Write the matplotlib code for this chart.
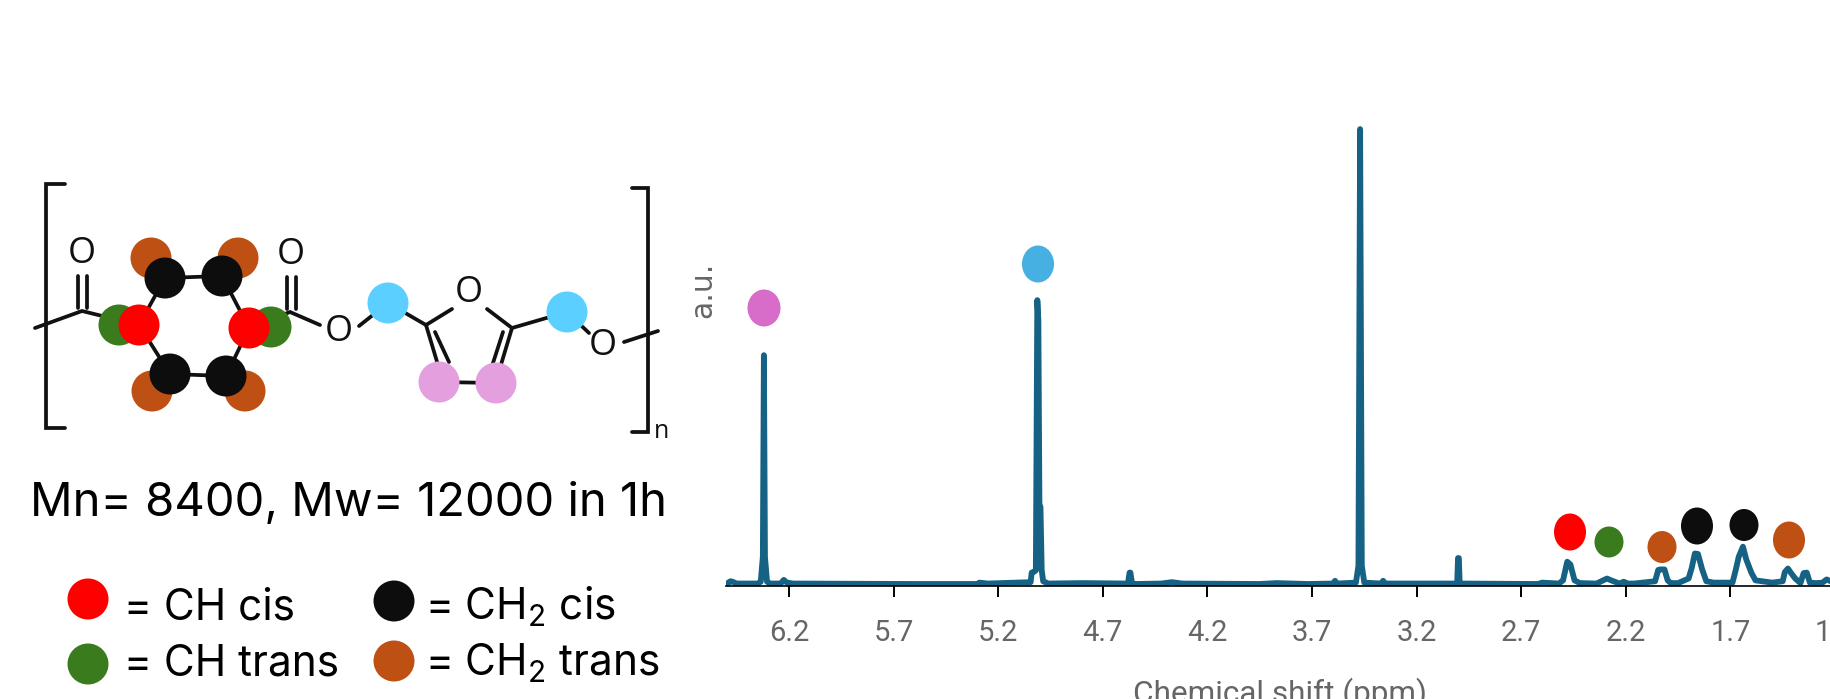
import matplotlib
matplotlib.use("Agg")
import matplotlib.pyplot as plt
from matplotlib.patches import Ellipse

# 1H NMR trace
ppm = [6.50, 6.49, 6.48, 6.47, 6.45, 6.35, 6.335, 6.325, 6.32, 6.315, 6.305, 6.29, 6.24,
       6.225, 6.21, 6.18, 5.60, 5.30, 5.29, 5.25, 5.045, 5.04, 5.035, 5.025, 5.02, 5.013,
       5.008, 5.003, 4.998, 4.992, 4.985, 4.96, 4.80, 4.58, 4.572, 4.568, 4.56, 4.54,
       4.42, 4.37, 4.32, 3.95, 3.87, 3.72, 3.60, 3.59, 3.58, 3.49, 3.478, 3.47, 3.462,
       3.45, 3.37, 3.36, 3.35, 3.006, 3.002, 2.998, 2.994, 2.62, 2.60, 2.52, 2.50, 2.48,
       2.465, 2.445, 2.42, 2.34, 2.29, 2.27, 2.23, 2.21, 2.19, 2.16, 2.06, 2.045, 2.035,
       2.015, 2.0, 1.985, 1.95, 1.90, 1.885, 1.87, 1.855, 1.835, 1.815, 1.78, 1.69, 1.675,
       1.66, 1.64, 1.625, 1.60, 1.58, 1.50, 1.45, 1.44, 1.425, 1.41, 1.39, 1.365, 1.35,
       1.335, 1.32, 1.29, 1.26, 1.24, 1.20]
intensity = [0.0, 0.3, 0.6, 0.5, 0.1, 0.1, 0.5, 6.0, 50.3, 6.0, 0.5, 0.1, 0.1,
             0.9, 0.3, 0.1, 0.0, 0.0, 0.3, 0.1, 0.4, 2.5, 2.6, 2.8, 3.0, 62.4,
             58.0, 17.4, 17.0, 3.0, 0.6, 0.1, 0.2, 0.1, 2.5, 2.5, 0.1, 0.0,
             0.1, 0.4, 0.1, 0.0, 0.2, 0.0, 0.1, 0.7, 0.1, 0.3, 4.0, 100.0, 4.0,
             0.3, 0.1, 0.7, 0.1, 0.1, 5.7, 5.7, 0.1, 0.0, 0.3, 0.1, 0.8, 4.9,
             4.3, 0.8, 0.2, 0.1, 1.2, 0.8, 0.1, 0.5, 0.1, 0.1, 0.6, 3.1, 3.2,
             3.2, 0.8, 0.2, 0.2, 1.2, 3.5, 6.7, 6.6, 3.2, 0.6, 0.3, 0.3, 3.0,
             6.0, 8.2, 5.5, 2.5, 0.8, 0.3, 0.6, 2.6, 3.4, 2.4, 1.2, 0.2, 2.4,
             2.5, 0.3, 0.2, 0.3, 1.0, 0.2]
tick_ppm = [6.2, 5.7, 5.2, 4.7, 4.2, 3.7, 3.2, 2.7, 2.2, 1.7, 1.2]

RED = "#FF0000"
BLACK = "#0D0D0D"
GREEN = "#3A7C1D"
ORANGE = "#BF5014"
PINK = "#E39FDE"
SKY = "#5BCFFF"
LINE = "#166285"
GREY = "#666666"

# peak labels over the spectrum: x, y, w, h, colour
peak_dots = [
    (764, 308, 33, 37, "#D86DC9"), (1038, 264, 32, 37, "#47B0E2"),
    (1570, 532, 32, 37, RED), (1609, 542, 29, 31, GREEN), (1662, 547, 29, 32, ORANGE),
    (1697, 526, 32, 37, BLACK), (1744, 525, 29, 32, BLACK), (1789, 540, 32, 37, ORANGE),
]

# skeletal formula in pixels
bonds = [
    [(65, 184), (46, 184), (46, 428), (65, 428)],
    [(632, 188), (648, 188), (648, 432), (632, 432)],
    [(35, 328), (82, 311), (139, 325)],
    [(78, 276), (78, 308)], [(87, 276), (87, 308)],
    [(139, 325), (165, 278), (222, 276), (249, 328), (226, 376), (170, 374), (139, 325)],
    [(249, 328), (290, 312), (320, 325)],
    [(287, 277), (287, 309)], [(296, 277), (296, 309)],
    [(359, 326), (388, 303), (426, 325), (452, 309)],
    [(487, 309), (512, 328), (567, 312), (589, 333)],
    [(426, 325), (441, 375)], [(435, 332), (449, 362)],
    [(512, 328), (497, 378)], [(503, 332), (493, 363)],
    [(439, 382), (496, 383)],
    [(624, 342), (658, 331)],
]
oxygens = [(82, 254), (291, 255), (339, 332), (469, 293), (603, 346)]
structure_dots = [
    (151, 258, ORANGE), (238, 258, ORANGE), (152, 391, ORANGE), (245, 391, ORANGE),
    (119, 325, GREEN), (271, 327, GREEN), (139, 325, RED), (249, 328, RED),
    (165, 278, BLACK), (222, 276, BLACK), (170, 374, BLACK), (226, 376, BLACK),
    (388, 303, SKY), (567, 312, SKY), (439, 382, PINK), (496, 383, PINK),
]
legend_items = [
    (88, 599, RED, 124, 620, "= CH cis"),
    (394, 601, BLACK, 425, 620, "= CH$_2$ cis"),
    (88, 664, GREEN, 124, 676, "= CH trans"),
    (394, 661, ORANGE, 425, 676, "= CH$_2$ trans"),
]

plt.rcParams["font.family"] = ["Roboto", "DejaVu Sans"]
plt.rcParams["mathtext.default"] = "regular"

W, H = 1830, 699
fig = plt.figure(figsize=(W / 100, H / 100), dpi=100, facecolor="white")

# the axes run past the right edge, the 1.2 label is cut there in the original
left, right, top, bottom = 726, 1900, 100, 586
ax = fig.add_axes([left / W, 1 - bottom / H, (right - left) / W, (bottom - top) / H])
ax.plot(ppm, intensity, color=LINE, lw=4.2, solid_capstyle="round", solid_joinstyle="round")
ax.set_xlim(6.2 + (789 - left) / 209.2, 6.2 - (right - 789) / 209.2)
ax.set_ylim(-0.44, 106.4)
ax.set_yticks([])
ax.set_xticks(tick_ppm)
ax.set_xticklabels([f"{t:.1f}" for t in tick_ppm])
ax.tick_params(axis="x", length=8, width=1.4, pad=16, labelsize=21, labelcolor=GREY)
for side in ["left", "right", "top"]:
    ax.spines[side].set_visible(False)
ax.spines["bottom"].set_linewidth(1.2)
ax.patch.set_alpha(0)

# overlay in image pixels for the formula, dots and free text
ov = fig.add_axes([0, 0, 1, 1])
ov.set_xlim(0, W)
ov.set_ylim(H, 0)
ov.axis("off")
ov.patch.set_alpha(0)

for x, y, w, h, c in peak_dots:
    ov.add_patch(Ellipse((x, y), w, h, color=c, lw=0))

for b in bonds:
    ov.plot([p[0] for p in b], [p[1] for p in b], color="#111111", lw=2.7,
            solid_capstyle="round", solid_joinstyle="miter")
for x, y in oxygens:
    ov.text(x, y, "O", fontsize=26, color="#111111", ha="center", va="center",
            family="Open Sans")
ov.text(661, 431, "n", fontsize=18, color="#111111", ha="center", va="center",
        family="Open Sans")
for x, y, c in structure_dots:
    ov.add_patch(Ellipse((x, y), 41, 41, color=c, lw=0, zorder=3))

ov.text(348, 516, "Mn= 8400, Mw= 12000 in 1h", fontsize=34, color="black",
        ha="center", va="baseline", family="Inter")
for dx, dy, c, tx, ty, label in legend_items:
    ov.add_patch(Ellipse((dx, dy), 41, 41, color=c, lw=0))
    ov.text(tx, ty, label, fontsize=30.5, color="black", ha="left", va="baseline", family="Inter")

ov.text(703, 290, "a.u.", fontsize=21.5, color=GREY, rotation=90, ha="center", va="center",
        family="DejaVu Sans")
ov.text(1280, 677, "Chemical shift (ppm)", fontsize=22.7, color=GREY, ha="center", va="top")

fig.savefig("out.png", dpi=100)
